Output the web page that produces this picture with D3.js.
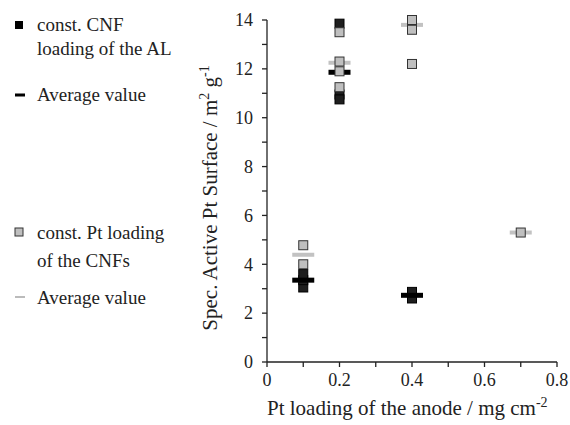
<!DOCTYPE html>
<html>
<head>
<meta charset="utf-8">
<script src="https://cdn.jsdelivr.net/npm/d3@7"></script>
<style>
  body { margin: 0; background: #fff; }
  svg text { font-family: "Liberation Serif", "Times New Roman", serif; }
</style>
</head>
<body>
<div id="chart"></div>
<script>
// const. CNF loading of the AL (black)
const cnfX = [0.1, 0.1, 0.1, 0.2, 0.2, 0.2, 0.4, 0.4];
const cnfY = [3.05, 3.35, 3.6, 13.85, 10.95, 10.75, 2.6, 2.87];
const cnfAvgX = [0.1, 0.2, 0.4];
const cnfAvgY = [3.35, 11.86, 2.73];

// const. Pt loading of the CNFs (grey)
const ptX = [0.1, 0.1, 0.2, 0.2, 0.2, 0.2, 0.4, 0.4, 0.4, 0.7];
const ptY = [4.78, 4.0, 13.5, 12.3, 11.9, 11.25, 14.0, 13.6, 12.2, 5.3];
const ptAvgX = [0.1, 0.2, 0.4, 0.7];
const ptAvgY = [4.39, 12.25, 13.8, 5.3];

const xTicks = [0, 0.2, 0.4, 0.6, 0.8];
const yTicks = [0, 2, 4, 6, 8, 10, 12, 14];

const W = 570, H = 425;
const FONT = "'Liberation Serif', 'Times New Roman', serif";
const svg = d3.select("#chart").append("svg")
  .attr("width", W)
  .attr("height", H)
  .attr("font-family", FONT);

const x = d3.scaleLinear().domain([0, 0.8]).range([267, 557]);
const y = d3.scaleLinear().domain([0, 14]).range([362, 20]);

// axes
const xAxis = svg.append("g").attr("transform", `translate(0,${y(0)})`);
xAxis.append("line").attr("x1", x(0)).attr("x2", x(0.8)).attr("stroke", "#222").attr("stroke-width", 1.3);
xAxis.selectAll(".minor").data(d3.range(0, 0.81, 0.1)).enter().append("line")
  .attr("x1", d => x(d)).attr("x2", d => x(d))
  .attr("y1", 0).attr("y2", 5)
  .attr("stroke", "#222").attr("stroke-width", 1.3);
xAxis.selectAll("text").data(xTicks).enter().append("text")
  .attr("x", d => x(d)).attr("y", 24)
  .attr("text-anchor", "middle")
  .attr("font-size", 18)
  .attr("fill", "#222")
  .text(d => d === 0 ? "0" : d3.format(".1f")(d));

const yAxis = svg.append("g").attr("transform", `translate(${x(0)},0)`);
yAxis.append("line").attr("y1", y(0)).attr("y2", y(14)).attr("stroke", "#222").attr("stroke-width", 1.3);
yAxis.selectAll(".minor").data(d3.range(0, 14.1, 1)).enter().append("line")
  .attr("y1", d => y(d)).attr("y2", d => y(d))
  .attr("x1", -5).attr("x2", 0)
  .attr("stroke", "#222").attr("stroke-width", 1.3);
yAxis.selectAll("text").data(yTicks).enter().append("text")
  .attr("x", -14).attr("y", d => y(d))
  .attr("dy", "0.35em")
  .attr("text-anchor", "end")
  .attr("font-size", 18)
  .attr("fill", "#222")
  .text(d => d);

// axis titles
const xt = svg.append("text")
  .attr("x", 267).attr("y", 415)
  .attr("font-size", 21)
  .attr("fill", "#222");
xt.append("tspan").text("Pt loading of the anode / mg cm");
xt.append("tspan").attr("dy", -8).attr("font-size", 14).text("-2");

const yt = svg.append("text")
  .attr("transform", "translate(217,198) rotate(-90)")
  .attr("text-anchor", "middle")
  .attr("font-size", 21)
  .attr("fill", "#222");
yt.append("tspan").text("Spec. Active Pt Surface / m");
yt.append("tspan").attr("dy", -8).attr("font-size", 14).text("2");
yt.append("tspan").attr("dy", 8).text(" g");
yt.append("tspan").attr("dy", -8).attr("font-size", 14).text("-1");

// marks
const sq = 9;
const plot = svg.append("g");

plot.selectAll(".cnf").data(cnfX.map((d, i) => [d, cnfY[i]])).enter().append("rect")
  .attr("x", d => x(d[0]) - sq / 2).attr("y", d => y(d[1]) - sq / 2)
  .attr("width", sq).attr("height", sq)
  .attr("fill", "#1e1e1e").attr("stroke", "#000").attr("stroke-width", 1);

plot.selectAll(".cnfavg").data(cnfAvgX.map((d, i) => [d, cnfAvgY[i]])).enter().append("rect")
  .attr("x", d => x(d[0]) - 11).attr("y", d => y(d[1]) - 2.5)
  .attr("width", 22).attr("height", 5)
  .attr("fill", "#000");

plot.selectAll(".ptavg").data(ptAvgX.map((d, i) => [d, ptAvgY[i]])).enter().append("rect")
  .attr("x", d => x(d[0]) - 11).attr("y", d => y(d[1]) - 2)
  .attr("width", 22).attr("height", 4)
  .attr("fill", "#c2c2c2");

plot.selectAll(".pt").data(ptX.map((d, i) => [d, ptY[i]])).enter().append("rect")
  .attr("x", d => x(d[0]) - sq / 2).attr("y", d => y(d[1]) - sq / 2)
  .attr("width", sq).attr("height", sq)
  .attr("fill", "#bfbfbf").attr("stroke", "#333").attr("stroke-width", 1);

// legend
const leg = svg.append("g").attr("font-size", 19).attr("fill", "#222");
leg.append("rect").attr("x", 15).attr("y", 21).attr("width", 8).attr("height", 8).attr("fill", "#000");
leg.append("text").attr("x", 37).attr("y", 31).text("const. CNF");
leg.append("text").attr("x", 37).attr("y", 55).text("loading of the AL");
leg.append("rect").attr("x", 15).attr("y", 93.5).attr("width", 10).attr("height", 3).attr("fill", "#000");
leg.append("text").attr("x", 37).attr("y", 101).text("Average value");

leg.append("rect").attr("x", 15).attr("y", 228).attr("width", 8).attr("height", 8)
  .attr("fill", "#bfbfbf").attr("stroke", "#333").attr("stroke-width", 1);
leg.append("text").attr("x", 37).attr("y", 239).text("const. Pt loading");
leg.append("text").attr("x", 37).attr("y", 267).text("of the CNFs");
leg.append("rect").attr("x", 15).attr("y", 296).attr("width", 10).attr("height", 2).attr("fill", "#bbb");
leg.append("text").attr("x", 37).attr("y", 304).text("Average value");
</script>
</body>
</html>
